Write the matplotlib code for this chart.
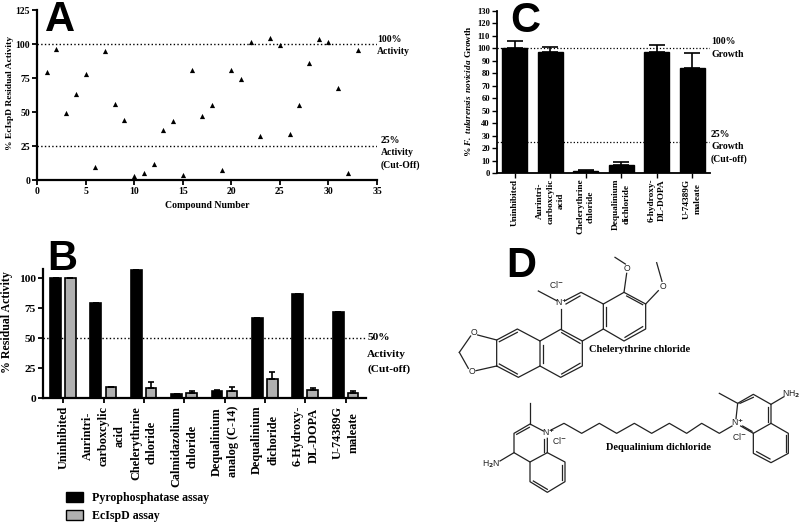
import numpy as np
import matplotlib
matplotlib.use("Agg")
import matplotlib.pyplot as plt
from matplotlib.patches import Patch

plt.rcParams['font.family'] = ['Liberation Serif', 'DejaVu Sans']
plt.rcParams['font.weight'] = 'bold'
plt.rcParams['mathtext.fontset'] = 'custom'
plt.rcParams['mathtext.rm'] = 'Liberation Serif:bold'
plt.rcParams['mathtext.bfit'] = 'Liberation Serif:italic:bold'

W, H = 800, 522

# Panel A
compound_number = list(range(1, 34))
ecispd_residual = [79.7, 96, 49, 63.6, 78, 9.5, 94.7, 55.8, 44.3, 3, 5, 11.5, 36.4, 43.3, 3.4, 80.7, 47,
                   54.8, 7.3, 81.2, 74, 101.3, 32, 104.5, 99, 34, 55.5, 86, 103.7, 101.5, 68, 5, 95.4]

# Panel B
b_labels = ['Uninhibited', 'Aurintri-\ncarboxcylic\nacid', 'Chelerythrine\nchloride', 'Calmidazolium\nchloride',
            'Dequalinium\nanalog (C-14)', 'Dequalinium\ndichoride', '6-Hydroxy-\nDL-DOPA', 'U-74389G\nmaleate']
b_pyro = [100, 79, 107, 3.5, 6, 66.5, 87, 71.5]
b_pyro_err = [0, 0, 0, 0, 0.5, 0, 0, 0]
b_ispd = [100, 9.5, 8, 4.5, 6, 16, 6.5, 4]
b_ispd_err = [0, 0, 5.5, 1, 3.5, 5.5, 1.5, 1.5]

# Panel C
c_labels = ['Uninhibited', 'Aurintri-\ncarboxcylic\nacid', 'Chelerythrine\nchloride', 'Dequalinium\ndichloride',
            '6-hydroxy-\nDL-DOPA', 'U-74389G\nmaleate']
c_growth = [100, 97.3, 1.5, 6.5, 96.8, 84]
c_growth_err = [6, 3.5, 1, 2.5, 5.6, 12]

# Panel D, line drawing traced in 3x crop coordinates
chelerythrine_bonds = [
    [(58, 277), (92, 228)], [(58, 277), (85, 325)], [(113, 225), (170, 240)], [(108, 332), (170, 318)],
    [(170, 318), (170, 240), (232, 207), (300, 243), (300, 318), (235, 352), (170, 318)],
    [(300, 243), (362, 208), (427, 243), (427, 318), (362, 352), (300, 318)],
    [(362, 208), (362, 148)], [(375, 122), (423, 97), (490, 132), (490, 207), (427, 243)],
    [(490, 132), (552, 97), (617, 132), (617, 207), (552, 243), (490, 207)],
    [(552, 97), (560, 40)], [(556, 12), (525, -8)], [(617, 132), (655, 92)], [(666, 64), (650, 8)],
    [(350, 122), (295, 93)],
    [(378, 132), (420, 108)], [(497, 142), (497, 198)], [(560, 108), (608, 134)], [(608, 200), (555, 232)],
    [(365, 218), (420, 250)], [(420, 310), (365, 342)], [(308, 255), (308, 310)], [(178, 312), (232, 342)],
    [(178, 245), (232, 217)],
]
dequalinium_bonds = [
    [(310, 513), (270, 492), (222, 520), (222, 578), (270, 606), (322, 578), (322, 535)],
    [(270, 492), (270, 430)], [(222, 578), (180, 603)],
    [(270, 606), (270, 665), (322, 697), (375, 665), (375, 606), (322, 578)],
    [(230, 523), (268, 502)], [(312, 537), (312, 575)], [(280, 663), (322, 688)], [(366, 615), (366, 660)],
    [(333, 510), (372, 490), (425, 520), (478, 490), (530, 520), (583, 490), (635, 520), (688, 490), (740, 520),
     (785, 490), (838, 520), (876, 498)],
    [(888, 476), (893, 430), (940, 403), (993, 433), (993, 490), (940, 520), (902, 498)],
    [(893, 430), (838, 400)], [(993, 433), (1032, 410)],
    [(993, 490), (1045, 520), (1045, 580), (993, 608), (940, 580), (940, 520)],
    [(900, 430), (940, 412)], [(985, 440), (985, 485)], [(908, 498), (936, 514)], [(1037, 525), (1037, 575)],
    [(990, 597), (950, 575)],
]
structure_atoms = [
    ('O', 103, 217), ('O', 97, 335), ('O', 562, 25), ('O', 668, 80), ('N$^{+}$', 365, 127), ('Cl$^{-}$', 349, 72),
    ('N$^{+}$', 326, 517), ('Cl$^{-}$', 358, 540), ('H$_2$N', 153, 612), ('N$^{+}$', 893, 487), ('Cl$^{-}$', 897, 529),
    ('NH$_2$', 1052, 403),
]
structure_names = [('Chelerythrine chloride', 448, 270), ('Dequalinium dichloride', 497, 563)]


def px_axes(fig, left, top, right, bottom):
    return fig.add_axes([left / W, 1 - bottom / H, (right - left) / W, (bottom - top) / H])


def style_axes(ax, size, width=1.6):
    ax.spines['top'].set_visible(False)
    ax.spines['right'].set_visible(False)
    ax.spines['left'].set_linewidth(width)
    ax.spines['bottom'].set_linewidth(width)
    ax.tick_params(width=width - 0.3, length=3.5, labelsize=size, pad=1.5)
    ax.patch.set_alpha(0)


fig = plt.figure(figsize=(W / 100, H / 100), dpi=100)

# A
ax_a = px_axes(fig, 37, 10, 377, 180)
ax_a.scatter(compound_number, ecispd_residual, marker='^', s=14, color='black', linewidths=0, zorder=3)
ax_a.axhline(100, color='black', ls=':', lw=1)
ax_a.axhline(25, color='black', ls=':', lw=1)
ax_a.set_xlim(0, 35)
ax_a.set_ylim(0, 125)
ax_a.set_xticks(range(0, 36, 5))
ax_a.set_yticks(range(0, 126, 25))
style_axes(ax_a, 7)
ax_a.set_xlabel('Compound Number', fontsize=7, fontweight='bold', labelpad=4)
ax_a.set_ylabel('% EcIspD Residual Activity', fontsize=6.8, fontweight='bold')
ax_a.yaxis.set_label_coords(-0.068, 0.51)
ax_a.text(35, 98.9, '100%\nActivity', fontsize=7, va='center', linespacing=1.5, clip_on=False)
ax_a.text(35.4, 19.9, '25%\nActivity\n(Cut-Off)', fontsize=7, va='center', linespacing=1.5, clip_on=False)

# B
ax_b = px_axes(fig, 43, 269, 366, 398)
bx = np.arange(len(b_labels))
ax_b.axhline(50, color='black', ls=':', lw=1, zorder=0)
ax_b.bar(bx - 0.19, b_pyro, 0.27, color='black', edgecolor='black', linewidth=1.2, zorder=2,
         yerr=[np.zeros(8), b_pyro_err], error_kw=dict(ecolor='black', elinewidth=1.2, capsize=2.5, capthick=1.2))
ax_b.bar(bx + 0.18, b_ispd, 0.26, color='#b0b0b0', edgecolor='black', linewidth=1.2, zorder=2,
         yerr=[np.zeros(8), b_ispd_err], error_kw=dict(ecolor='black', elinewidth=1.2, capsize=2.5, capthick=1.2))
ax_b.set_xlim(-0.5, 7.5)
ax_b.set_ylim(0, 107.5)
ax_b.set_yticks(range(0, 101, 25))
ax_b.set_xticks(bx)
ax_b.set_xticklabels(b_labels, rotation=90, multialignment='center', linespacing=1.45)
style_axes(ax_b, 8.2)
ax_b.tick_params(axis='x', labelsize=8.8, pad=2)
ax_b.set_ylabel('% Residual Activity', fontsize=8.6, fontweight='bold')
ax_b.yaxis.set_label_coords(-0.094, 0.59)
ax_b.text(7.53, 50, '50%', fontsize=8.2, va='center', ha='left', clip_on=False)
ax_b.text(7.53, 30, 'Activity\n(Cut-off)', fontsize=8.2, va='center', ha='left', linespacing=1.6, clip_on=False)
handles = [Patch(facecolor='black', edgecolor='black', label='Pyrophosphatase assay'),
           Patch(facecolor='#b0b0b0', edgecolor='black', label='EcIspD assay')]
fig.legend(handles=handles, loc='upper left', bbox_to_anchor=(66 / W, 1 - 492 / H), frameon=False, fontsize=8.6,
           handlelength=1.45, handleheight=0.9, handletextpad=0.75, labelspacing=0.5, borderpad=0, borderaxespad=0)

# C
ax_c = px_axes(fig, 497, 11, 710, 173)
cx = np.arange(len(c_labels))
ax_c.axhline(100, color='black', ls=':', lw=0.9, zorder=0)
ax_c.axhline(25, color='black', ls=':', lw=0.9, zorder=0)
ax_c.bar(cx, c_growth, 0.7, color='black', edgecolor='black', zorder=2,
         yerr=[np.zeros(6), c_growth_err], error_kw=dict(ecolor='black', elinewidth=1.2, capsize=5.5, capthick=1.2))
ax_c.set_xlim(-0.5, 5.5)
ax_c.set_ylim(0, 130)
ax_c.set_yticks(range(0, 131, 10))
ax_c.set_xticks(cx)
ax_c.set_xticklabels(c_labels, rotation=90, multialignment='center', linespacing=1.4)
style_axes(ax_c, 6.2, 1.3)
ax_c.tick_params(axis='x', labelsize=6.7, pad=0.5)
ax_c.set_ylabel(r'% $\mathbfit{F.\,tularensis\ novicida}$ Growth', fontsize=6.7, fontweight='bold')
ax_c.yaxis.set_label_coords(-0.113, 0.506)
ax_c.text(5.53, 100.2, '100%\nGrowth', fontsize=7, va='center', linespacing=1.5, clip_on=False)
ax_c.text(5.53, 20.9, '25%\nGrowth\n(Cut-off)', fontsize=7, va='center', linespacing=1.5, clip_on=False)

# Overlay in pixel coordinates for the panel letters and panel D
ax_d = fig.add_axes([0, 0, 1, 1])
ax_d.set_xlim(0, W)
ax_d.set_ylim(H, 0)
ax_d.axis('off')
for letter, x, y in [('A', 60, 31), ('B', 62, 270), ('C', 525, 31.5), ('D', 521, 277)]:
    ax_d.text(x, y, letter, fontsize=30, fontweight='bold', family='Liberation Sans', ha='center', va='baseline')
for bond in chelerythrine_bonds + dequalinium_bonds:
    pts = np.array(bond)
    ax_d.plot(440 + pts[:, 0] / 3, 260 + pts[:, 1] / 3, color='#222222', lw=0.9)
for atom, x, y in structure_atoms:
    ax_d.text(440 + x / 3, 260 + y / 3, atom, fontsize=6.2, family='Liberation Sans', fontweight='normal',
              ha='center', va='center', color='#222222', math_fontfamily='dejavusans')
for name, x, y in structure_names:
    ax_d.text(440 + x / 3, 260 + y / 3, name, fontsize=7.5, ha='left', va='center')

fig.savefig('out.png', dpi=100)
